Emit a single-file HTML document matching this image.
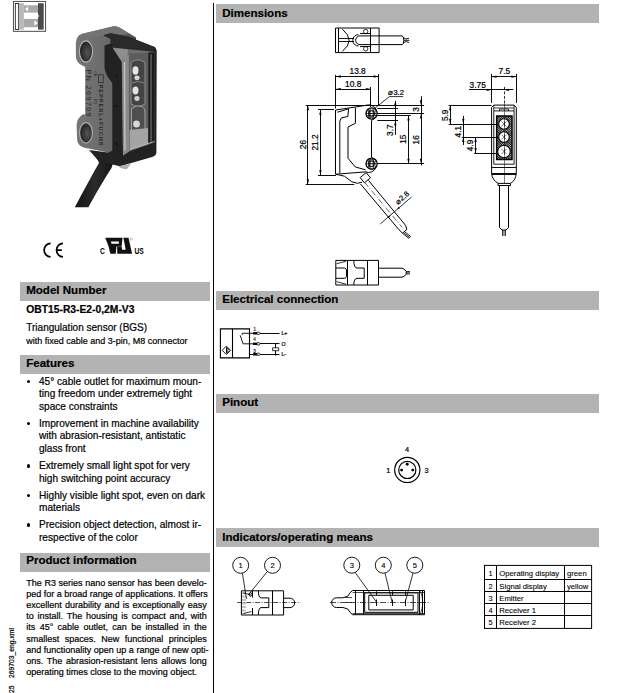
<!DOCTYPE html>
<html><head><meta charset="utf-8"><style>
html,body{margin:0;padding:0;background:#fff;}
body{width:619px;height:693px;position:relative;overflow:hidden;font-family:"Liberation Sans",sans-serif;color:#000;}
.t{position:absolute;white-space:nowrap;line-height:1;-webkit-text-stroke:0.2px #000;}
.bar{position:absolute;background:#b3b3b3;}
.bul{position:absolute;width:3.6px;height:3.6px;border-radius:50%;background:#000;}
svg{position:absolute;left:0;top:0;}
svg text{font-family:"Liberation Sans",sans-serif;}
</style></head><body>
<div class="bar" style="left:216px;top:4px;width:383px;height:19px"></div>
<div class="t" style="left:222.2px;top:7.67px;font-size:11.55px;font-weight:bold;">Dimensions</div>
<div class="bar" style="left:216px;top:291px;width:383px;height:19px"></div>
<div class="t" style="left:222.2px;top:293.97px;font-size:11.55px;font-weight:bold;">Electrical connection</div>
<div class="bar" style="left:216px;top:394px;width:383px;height:19px"></div>
<div class="t" style="left:222.2px;top:396.67px;font-size:11.55px;font-weight:bold;">Pinout</div>
<div class="bar" style="left:216px;top:528px;width:383px;height:19px"></div>
<div class="t" style="left:222.2px;top:531.67px;font-size:11.55px;font-weight:bold;">Indicators/operating means</div>
<div class="bar" style="left:20px;top:282px;width:190px;height:19px"></div>
<div class="t" style="left:26.2px;top:284.67px;font-size:11.55px;font-weight:bold;">Model Number</div>
<div class="bar" style="left:20px;top:355px;width:190px;height:19px"></div>
<div class="t" style="left:26.2px;top:358.37px;font-size:11.55px;font-weight:bold;">Features</div>
<div class="bar" style="left:20px;top:553px;width:190px;height:19px"></div>
<div class="t" style="left:26.2px;top:555.37px;font-size:11.55px;font-weight:bold;">Product information</div>
<div style="position:absolute;left:213px;top:3px;width:1px;height:690px;background:#000"></div>
<div class="t" style="left:26.3px;top:304.73px;font-size:10.3px;font-weight:bold;">OBT15-R3-E2-0,2M-V3</div>
<div class="t" style="left:26.3px;top:322.88px;font-size:10px;font-weight:normal;">Triangulation sensor (BGS)</div>
<div class="t" style="left:26.3px;top:336.83px;font-size:9px;font-weight:normal;">with fixed cable and 3-pin, M8 connector</div>
<div class="bul" style="left:26.8px;top:379.9px"></div>
<div class="t" style="left:39px;top:376.9px;font-size:10.1px;font-weight:normal;">45° cable outlet for maximum moun-</div>
<div class="t" style="left:39px;top:389.4px;font-size:10.1px;font-weight:normal;">ting freedom under extremely tight</div>
<div class="t" style="left:39px;top:401.9px;font-size:10.1px;font-weight:normal;">space constraints</div>
<div class="bul" style="left:26.8px;top:421.9px"></div>
<div class="t" style="left:39px;top:418.9px;font-size:10.1px;font-weight:normal;">Improvement in machine availability</div>
<div class="t" style="left:39px;top:431.4px;font-size:10.1px;font-weight:normal;">with abrasion-resistant, antistatic</div>
<div class="t" style="left:39px;top:443.9px;font-size:10.1px;font-weight:normal;">glass front</div>
<div class="bul" style="left:26.8px;top:464.4px"></div>
<div class="t" style="left:39px;top:461.4px;font-size:10.1px;font-weight:normal;">Extremely small light spot for very</div>
<div class="t" style="left:39px;top:473.9px;font-size:10.1px;font-weight:normal;">high switching point accuracy</div>
<div class="bul" style="left:26.8px;top:493.9px"></div>
<div class="t" style="left:39px;top:490.9px;font-size:10.1px;font-weight:normal;">Highly visible light spot, even on dark</div>
<div class="t" style="left:39px;top:503.4px;font-size:10.1px;font-weight:normal;">materials</div>
<div class="bul" style="left:26.8px;top:523.4px"></div>
<div class="t" style="left:39px;top:520.4px;font-size:10.1px;font-weight:normal;">Precision object detection, almost ir-</div>
<div class="t" style="left:39px;top:532.9px;font-size:10.1px;font-weight:normal;">respective of the color</div>
<div class="t" style="left:26.3px;top:578.53px;font-size:9px;font-weight:normal;width:180.5px;text-align:justify;text-align-last:justify;">The R3 series nano sensor has been develo-</div>
<div class="t" style="left:26.3px;top:589.73px;font-size:9px;font-weight:normal;width:180.5px;text-align:justify;text-align-last:justify;">ped for a broad range of applications. It offers</div>
<div class="t" style="left:26.3px;top:600.93px;font-size:9px;font-weight:normal;width:180.5px;text-align:justify;text-align-last:justify;">excellent durability and is exceptionally easy</div>
<div class="t" style="left:26.3px;top:612.13px;font-size:9px;font-weight:normal;width:180.5px;text-align:justify;text-align-last:justify;">to install. The housing is compact and, with</div>
<div class="t" style="left:26.3px;top:623.33px;font-size:9px;font-weight:normal;width:180.5px;text-align:justify;text-align-last:justify;">its 45° cable outlet, can be installed in the</div>
<div class="t" style="left:26.3px;top:634.53px;font-size:9px;font-weight:normal;width:180.5px;text-align:justify;text-align-last:justify;">smallest spaces. New functional principles</div>
<div class="t" style="left:26.3px;top:645.73px;font-size:9px;font-weight:normal;width:180.5px;text-align:justify;text-align-last:justify;">and functionality open up a range of new opti-</div>
<div class="t" style="left:26.3px;top:656.93px;font-size:9px;font-weight:normal;width:180.5px;text-align:justify;text-align-last:justify;">ons. The abrasion-resistant lens allows long</div>
<div class="t" style="left:26.3px;top:668.13px;font-size:9px;font-weight:normal;width:180.5px;text-align:justify;text-align-last:left;">operating times close to the moving object.</div>
<div class="t" style="left:9.3px;top:677.5px;font-size:6.75px;transform-origin:0 0;transform:rotate(-90deg)">269703_eng.xml</div>
<div class="t" style="left:9.3px;top:693px;font-size:6.75px;transform-origin:0 0;transform:rotate(-90deg)">25</div>
<svg width="619" height="693" viewBox="0 0 619 693">
<defs>
<linearGradient id="gface" x1="0" y1="0" x2="1" y2="0">
<stop offset="0" stop-color="#767676"/><stop offset="0.6" stop-color="#686868"/><stop offset="1" stop-color="#4a4a4a"/>
</linearGradient>
<linearGradient id="gcab" x1="0" y1="0" x2="1" y2="0">
<stop offset="0" stop-color="#141414"/><stop offset="0.5" stop-color="#2a2a2a"/><stop offset="1" stop-color="#151515"/>
</linearGradient>
<radialGradient id="ghole" cx="0.6" cy="0.55" r="0.6">
<stop offset="0" stop-color="#555"/><stop offset="1" stop-color="#1e1e1e"/>
</radialGradient>
</defs>
<!-- logo -->
<rect x="13.4" y="1.4" width="32.2" height="29.9" fill="#fff" stroke="#3a3a3a" stroke-width="0.9"/>
<rect x="15.3" y="3.4" width="3.4" height="26" fill="#fff" stroke="#111" stroke-width="0.8"/>
<rect x="19" y="3.2" width="4.8" height="26.4" fill="#b9b9b9"/>
<rect x="23.8" y="5.3" width="14.2" height="7.3" fill="#aaa"/>
<rect x="23.8" y="18.9" width="14.2" height="8.3" fill="#aaa"/>
<path d="M24.9,8.9 L28.2,6.4 V11.4 Z" fill="#fff"/>
<path d="M37.9,23 L34.4,20.5 V25.5 Z" fill="#fff"/>
<rect x="38" y="3.2" width="5.7" height="26.4" fill="#4b4b4b"/>
<path d="M38,14.6 L39.2,16 L38,17.4 Z" fill="#fff"/>
<!-- cable -->
<path d="M97,158 L99,163 C93,173 83,192 74.8,207.3 H88.4 C94,197 103,181 111.5,168 L114,160 Z" fill="url(#gcab)"/>
<!-- gray side face -->
<path d="M75.8,44 Q76,35.8 81.5,34 L112.6,26.4 Q116.8,25.6 119.8,27.8 L136,37.5 L136,153 L108,152.5 L96,150 L84.5,147.8 Q77.3,145.5 77.1,139.5 L76.6,125 Q77.2,117.5 83.5,114 L85.2,115 L85.2,67 Q76.2,63.5 75.9,57 Z" fill="url(#gface)"/>
<path d="M81.5,34 L112.6,26.4 Q116.8,25.6 119.8,27.8 L130,34 L104,35.5 L82,38 Z" fill="#737373"/>
<!-- black front/top -->
<path d="M103.4,35.2 L110.7,33.2 L129,37.1 L155.2,47.3 Q156.9,49.5 156.7,52.5 L156.4,153 Q156,156 153,156.8 L120,166.2 L99,161.5 L89,150 L108,152.5 L112.3,150.8 L112.3,83 Q106,76 104.5,68 L104.5,45.5 L110.7,43.4 L110.7,39 Z" fill="#222"/>
<path d="M103.4,35.2 L110.7,33.2 L129,37.1 L155.2,47.3 L152,50.5 L113,47.3 L110.7,43.4 L110.7,39 Z" fill="#2a2a2a"/>
<!-- translucent window -->
<path d="M112.6,47.6 L154.3,51.8 L154.4,142.4 L129.1,151.5 L123,155.5 L121.8,62 Z" fill="#6e6e6e"/>
<path d="M112.8,48 L128,49.6 L127,58 L121.8,61.5 Z" fill="#8e8e8e"/>
<path d="M121.8,58 L128.8,55 L129.1,151.5 L123,155.5 Z" fill="#8a8a8a"/>
<path d="M123.8,62 L125.2,62 L125.6,150 L124.3,151 Z" fill="#c4c4c4"/>
<path d="M129.1,53.5 L148.3,52.8 L148.3,143.5 L129.1,150 Z" fill="#5c5c5c"/>
<path d="M148.3,52.5 L154.3,52.2 L154.4,142.4 L148.3,144 Z" fill="#1c1c1c"/>
<path d="M150.5,54 L151.6,54 L151.6,141.5 L150.5,142 Z" fill="#777"/>
<path d="M131,62 Q138,57.5 145,62.5 L145,104 Q138,108.5 131,104 Z" fill="#444" stroke="#a0a0a0" stroke-width="0.8"/>
<path d="M131.5,108.5 Q136,104.5 142,106.5 Q145.5,108 145,113 L145,130 Q144,137 140,140 L131.5,141 Z" fill="#4e4e4e" stroke="#aaa" stroke-width="0.9"/>
<path d="M132,83 Q138,80 144.5,83" stroke="#888" stroke-width="0.9" fill="none"/>
<path d="M129.6,130 L148,128 L148,143.5 L129.6,149.5 Z" fill="#a4a4a4"/>
<path d="M129.6,149.6 L154.4,141.5" stroke="#c8c8c8" stroke-width="0.9"/>
<ellipse cx="135.5" cy="70.5" rx="3" ry="4.2" fill="#e6e6e6"/>
<ellipse cx="137" cy="77.8" rx="2.6" ry="2.4" fill="#d8d8d8"/>
<ellipse cx="135.5" cy="90.5" rx="3" ry="4" fill="#e2e2e2"/>
<ellipse cx="137" cy="98.5" rx="2.6" ry="2.4" fill="#d2d2d2"/>
<ellipse cx="136.5" cy="124" rx="3.4" ry="3.6" fill="#d8d8d8"/>
<path d="M118,166.3 Q122,170 127,169 L131,163.8 L120,166 Z" fill="#b0b0b0"/>
<!-- holes -->
<ellipse cx="86" cy="51.5" rx="6.6" ry="10.6" fill="url(#ghole)" stroke="#b4b4b4" stroke-width="1.1"/>
<ellipse cx="86" cy="132.8" rx="6.4" ry="10.2" fill="url(#ghole)" stroke="#b0b0b0" stroke-width="1.1"/>
<circle cx="116.6" cy="75.5" r="0.9" fill="#0a0a0a"/>
<circle cx="116.6" cy="105.8" r="0.9" fill="#0a0a0a"/>
<circle cx="116.6" cy="144" r="0.9" fill="#0a0a0a"/>
<!-- side text -->
<g fill="#262626" font-family="Liberation Sans">
<rect x="98.6" y="74.8" width="4.6" height="8" fill="none" stroke="#262626" stroke-width="0.7"/>
<text transform="translate(98.6,84.5) rotate(90)" font-size="5.6" font-weight="bold" textLength="61">PEPPERL+FUCHS</text>
<text transform="translate(93.6,71) rotate(90)" font-size="3.8">OB</text>
<text transform="translate(93.6,99) rotate(90)" font-size="3.8">R3</text>
<text transform="translate(86,69.5) rotate(90)" font-size="7.2" textLength="47">PN 269709</text>
</g>
<!-- CE -->
<path d="M50.6,243.3 A6.5,6.8 0 0 0 50.6,256.9" fill="none" stroke="#000" stroke-width="1.7"/>
<path d="M63,243.3 A6.5,6.8 0 0 0 63,256.9 M56.8,250.1 H61.8" fill="none" stroke="#000" stroke-width="1.7"/>
<!-- cULus -->
<text x="0" y="0" font-size="8.6" font-weight="bold" font-family="Liberation Sans" transform="translate(99.9 253.7) scale(0.78 1)">C</text>
<path d="M105.2,237.8 H122.6 L121.6,246.6 H116.4 L115.8,253.7 H110.3 L108.6,246.6 Z M110.9,241.4 H119 L118.7,243.8 H111.5 Z" fill="#111" fill-rule="evenodd"/>
<path d="M123.4,237.8 H128.5 L132.1,253.7 H117.3 L117.1,246.6 H121.6 L122.2,249.8 H125.7 Z" fill="#111"/>
<text x="0" y="0" font-size="8.6" font-weight="bold" font-family="Liberation Sans" transform="translate(134.4 253.7) scale(0.78 1)">US</text>
<circle cx="131.2" cy="239" r="1.2" fill="none" stroke="#999" stroke-width="0.6"/>

<path d="M335.5,28 H379.1 V52.6 H335.5 Z" stroke="#000" stroke-width="1.0" fill="none" />
<line x1="338.5" y1="28" x2="338.5" y2="52.6" stroke="#000" stroke-width="1.0" />
<line x1="370.5" y1="28" x2="370.5" y2="52.6" stroke="#000" stroke-width="1.0" />
<path d="M342.4,29.2 Q355.8,40.3 342.4,51.4" stroke="#000" stroke-width="1.0" fill="none" />
<line x1="338.8" y1="38.5" x2="354" y2="38.5" stroke="#000" stroke-width="0.95" />
<line x1="338.8" y1="41.5" x2="354" y2="41.5" stroke="#000" stroke-width="0.95" />
<path d="M402,35.9 H360 A4.35,4.35 0 0 0 360,44.6 H402" stroke="#000" stroke-width="1.0" fill="none" />
<path d="M358.5,34.6 A5.6,5.6 0 0 0 358.5,46" stroke="#000" stroke-width="1.0" fill="none" />
<circle cx="365.7" cy="31.5" r="2.2" stroke="#000" stroke-width="0.8" fill="none"/>
<circle cx="365.7" cy="48.8" r="2.2" stroke="#000" stroke-width="0.8" fill="none"/>
<line x1="360" y1="33.5" x2="370.8" y2="33.5" stroke="#000" stroke-width="0.95" />
<line x1="360" y1="46.5" x2="370.8" y2="46.5" stroke="#000" stroke-width="0.95" />
<path d="M402,35.9 A1.8,4.35 0 0 1 402,44.6" stroke="#000" stroke-width="1.0" fill="none" />
<path d="M403,37.5 L406,39 L409,38.2 M403,43 L406,41.5 L409,42.5 M404,40.3 L409.5,40.3" stroke="#000" stroke-width="0.9" fill="none" />
<line x1="335.5" y1="74.9" x2="335.5" y2="108.5" stroke="#000" stroke-width="0.95" />
<line x1="378.5" y1="74.2" x2="378.5" y2="105.3" stroke="#000" stroke-width="0.95" />
<line x1="335.9" y1="76.5" x2="378.6" y2="76.5" stroke="#000" stroke-width="0.95" />
<path d="M335.9,76.5 L340.9,75.35 L340.9,77.65 Z" fill="#000"/>
<path d="M378.6,76.5 L373.6,77.65 L373.6,75.35 Z" fill="#000"/>
<text x="357.6" y="74" font-size="8.3" text-anchor="middle" font-weight="normal" fill="#000" stroke="#000" stroke-width="0.22">13.8</text>
<line x1="370.5" y1="87" x2="370.5" y2="107" stroke="#000" stroke-width="0.95" />
<line x1="335.9" y1="89.5" x2="370.8" y2="89.5" stroke="#000" stroke-width="0.95" />
<path d="M335.9,89.1 L340.9,87.95 L340.9,90.25 Z" fill="#000"/>
<path d="M370.8,89.1 L365.8,90.25 L365.8,87.95 Z" fill="#000"/>
<text x="353.2" y="87.1" font-size="8.3" text-anchor="middle" font-weight="normal" fill="#000" stroke="#000" stroke-width="0.22">10.8</text>
<line x1="305.7" y1="105.5" x2="424.1" y2="105.5" stroke="#000" stroke-width="0.95" />
<line x1="307.5" y1="105.3" x2="307.5" y2="184.3" stroke="#000" stroke-width="0.95" />
<path d="M307.9,105.3 L309.05,110.3 L306.75,110.3 Z" fill="#000"/>
<path d="M307.9,184.3 L306.75,179.3 L309.05,179.3 Z" fill="#000"/>
<line x1="305.7" y1="184.5" x2="354.3" y2="184.5" stroke="#000" stroke-width="0.95" />
<text x="305.6" y="144.6" font-size="8.3" text-anchor="middle" font-weight="normal" fill="#000" stroke="#000" stroke-width="0.22" transform="rotate(-90 305.6 144.6)">26</text>
<line x1="318" y1="109.5" x2="334" y2="109.5" stroke="#000" stroke-width="0.95" />
<line x1="318" y1="175.5" x2="336" y2="175.5" stroke="#000" stroke-width="0.95" />
<line x1="320.5" y1="109.7" x2="320.5" y2="175.3" stroke="#000" stroke-width="0.95" />
<path d="M320.4,109.7 L321.55,114.7 L319.25,114.7 Z" fill="#000"/>
<path d="M320.4,175.3 L319.25,170.3 L321.55,170.3 Z" fill="#000"/>
<text x="318" y="142.5" font-size="8.3" text-anchor="middle" font-weight="normal" fill="#000" stroke="#000" stroke-width="0.22" transform="rotate(-90 318 142.5)">21.2</text>
<line x1="377.3" y1="113.5" x2="424.1" y2="113.5" stroke="#000" stroke-width="0.95" />
<line x1="377.3" y1="163.5" x2="424.1" y2="163.5" stroke="#000" stroke-width="0.95" />
<line x1="377.3" y1="115.5" x2="410.8" y2="115.5" stroke="#000" stroke-width="0.95" />
<line x1="377.3" y1="108.5" x2="398.1" y2="108.5" stroke="#000" stroke-width="0.95" />
<line x1="377.3" y1="120.5" x2="398.1" y2="120.5" stroke="#000" stroke-width="0.95" />
<line x1="421.5" y1="96.2" x2="421.5" y2="165.5" stroke="#000" stroke-width="0.95" />
<path d="M421,105.3 L419.85,100.3 L422.15,100.3 Z" fill="#000"/>
<path d="M421,113.5 L422.15,118.5 L419.85,118.5 Z" fill="#000"/>
<path d="M421,163.7 L419.85,158.7 L422.15,158.7 Z" fill="#000"/>
<text x="418.8" y="109.5" font-size="8.3" text-anchor="middle" font-weight="normal" fill="#000" stroke="#000" stroke-width="0.22" transform="rotate(-90 418.8 109.5)">3</text>
<text x="418.8" y="139.8" font-size="8.3" text-anchor="middle" font-weight="normal" fill="#000" stroke="#000" stroke-width="0.22" transform="rotate(-90 418.8 139.8)">16</text>
<line x1="408.5" y1="115.6" x2="408.5" y2="163.7" stroke="#000" stroke-width="0.95" />
<path d="M408.5,115.6 L409.65,120.6 L407.35,120.6 Z" fill="#000"/>
<path d="M408.5,163.7 L407.35,158.7 L409.65,158.7 Z" fill="#000"/>
<text x="406.3" y="139.2" font-size="8.3" text-anchor="middle" font-weight="normal" fill="#000" stroke="#000" stroke-width="0.22" transform="rotate(-90 406.3 139.2)">15</text>
<line x1="395.5" y1="100.8" x2="395.5" y2="134.9" stroke="#000" stroke-width="0.95" />
<path d="M395.3,108.6 L394.15,103.6 L396.45,103.6 Z" fill="#000"/>
<path d="M395.3,120.4 L396.45,125.4 L394.15,125.4 Z" fill="#000"/>
<text x="393.2" y="130.2" font-size="8.3" text-anchor="middle" font-weight="normal" fill="#000" stroke="#000" stroke-width="0.22" transform="rotate(-90 393.2 130.2)">3.7</text>
<path d="M374.8,108.3 L389.4,96.6 H403.1" stroke="#000" stroke-width="0.8" fill="none" />
<text x="388.4" y="95" font-size="7.5" text-anchor="start" font-weight="normal" fill="#000" stroke="#000" stroke-width="0.22">⌀3.2</text>
<path d="M335.7,110 L365.6,105.4" stroke="#000" stroke-width="1.0" fill="none" />
<line x1="335.5" y1="110" x2="335.5" y2="174.2" stroke="#000" stroke-width="1.0" />
<path d="M337.5,112.2 L348.6,108.8 L347.8,116.5 L341.5,117.8 L339.8,121 V173" stroke="#000" stroke-width="1.0" fill="none" />
<path d="M355.4,107.6 V123.3 L348,127 V158.3 L355.4,167 L365.6,169.8" stroke="#000" stroke-width="1.0" fill="none" />
<line x1="371.5" y1="120.4" x2="371.5" y2="157.3" stroke="#000" stroke-width="1.0" />
<path d="M365.6,105.4 A6.6,6.6 0 1 1 371.6,120.4" stroke="#000" stroke-width="1.0" fill="none" />
<path d="M371.6,157.3 A6.6,6.6 0 1 1 365.6,171.9" stroke="#000" stroke-width="1.0" fill="none" />
<circle cx="371.6" cy="113.5" r="5.6" stroke="#000" stroke-width="1.3" fill="url(#hatch2)"/>
<circle cx="371.6" cy="113.5" r="3" stroke="#000" stroke-width="0.9" fill="none"/>
<line x1="369.5" y1="109.5" x2="369.5" y2="117.5" stroke="#000" stroke-width="0.7" />
<line x1="373.5" y1="109.5" x2="373.5" y2="117.5" stroke="#000" stroke-width="0.7" />
<line x1="367.5" y1="113.5" x2="375.7" y2="113.5" stroke="#000" stroke-width="0.7" />
<circle cx="371.6" cy="163.7" r="5.6" stroke="#000" stroke-width="1.3" fill="url(#hatch2)"/>
<circle cx="371.6" cy="163.7" r="3" stroke="#000" stroke-width="0.9" fill="none"/>
<line x1="369.5" y1="159.7" x2="369.5" y2="167.7" stroke="#000" stroke-width="0.7" />
<line x1="373.5" y1="159.7" x2="373.5" y2="167.7" stroke="#000" stroke-width="0.7" />
<line x1="367.5" y1="163.5" x2="375.7" y2="163.5" stroke="#000" stroke-width="0.7" />
<path d="M335.7,174.2 L365.6,171.9" stroke="#000" stroke-width="1.0" fill="none" />
<path d="M335.7,174.2 L344.5,176.2 L351.8,181.8 L357.6,183.3 L362,182.2" stroke="#000" stroke-width="1.0" fill="none" />
<path d="M360.2,177.6 L366.2,172.6 L370.5,177.8 L364.4,182.8 Z" stroke="#000" stroke-width="1.0" fill="none" />
<line x1="360.5" y1="184" x2="399" y2="229.8" stroke="#000" stroke-width="1.0" />
<line x1="368.5" y1="180.4" x2="405.6" y2="225.4" stroke="#000" stroke-width="1.0" />
<line x1="364.5" y1="182.2" x2="402.3" y2="227.6" stroke="#000" stroke-width="0.6" stroke-dasharray="6,2,1,2"/>
<path d="M399,229.8 L402.5,233.2 L406.8,229.5 L405.6,225.4" stroke="#000" stroke-width="1.0" fill="none" />
<path d="M402.5,233.2 L409,238.5 M404.5,231.5 L411,236.8 M403.5,232.5 L410,237.8" stroke="#000" stroke-width="0.9" fill="none" />
<line x1="380.2" y1="224" x2="411.4" y2="197.1" stroke="#000" stroke-width="0.8" />
<path d="M397.2,209.3 L398.7,206.73 L399.99,208.27 Z" fill="#000"/>
<path d="M390.5,215.2 L389,217.77 L387.71,216.23 Z" fill="#000"/>
<text x="403.8" y="199.6" font-size="7.5" text-anchor="middle" font-weight="normal" fill="#000" stroke="#000" stroke-width="0.22" transform="rotate(-40 403.8 199.6)">⌀2.8</text>
<line x1="491.5" y1="73.8" x2="491.5" y2="102.9" stroke="#000" stroke-width="0.95" />
<line x1="516.5" y1="73.8" x2="516.5" y2="102.9" stroke="#000" stroke-width="0.95" />
<line x1="491.6" y1="76.5" x2="516.3" y2="76.5" stroke="#000" stroke-width="0.95" />
<path d="M491.6,76.7 L496.6,75.55 L496.6,77.85 Z" fill="#000"/>
<path d="M516.3,76.7 L511.3,77.85 L511.3,75.55 Z" fill="#000"/>
<text x="504.3" y="73.8" font-size="8.3" text-anchor="middle" font-weight="normal" fill="#000" stroke="#000" stroke-width="0.22">7.5</text>
<line x1="469" y1="89.5" x2="513.4" y2="89.5" stroke="#000" stroke-width="0.95" />
<path d="M491.6,89.8 L486.6,90.95 L486.6,88.65 Z" fill="#000"/>
<path d="M504,89.8 L509,88.65 L509,90.95 Z" fill="#000"/>
<text x="469.6" y="87.6" font-size="8.3" text-anchor="start" font-weight="normal" fill="#000" stroke="#000" stroke-width="0.22">3.75</text>
<line x1="504.5" y1="86.9" x2="504.5" y2="103.6" stroke="#000" stroke-width="0.8" stroke-dasharray="3,1.5"/>
<path d="M491.6,107.5 L493.8,105.1 H514.1 L516.3,107.5 V173 Q516,180 510.5,183.4 H498.2 Q492,180 491.6,173 Z" stroke="#000" stroke-width="1.0" fill="none" />
<path d="M493.8,105.1 V110.9 M514.1,105.1 V110.9" stroke="#000" stroke-width="0.8" fill="none" />
<path d="M493.8,108 H514.1" stroke="#000" stroke-width="0.8" fill="none" />
<path d="M499.5,110.9 V109 H508.5 V110.9" stroke="#000" stroke-width="0.8" fill="none" />
<path d="M493.8,110.9 H514.1 V164.2 H493.8 Z" stroke="#000" stroke-width="0.9" fill="none" />
<defs><pattern id="hatch2" width="2.2" height="2.2" patternUnits="userSpaceOnUse" patternTransform="rotate(0)"><rect width="2.2" height="2.2" fill="#fff"/><line x1="0" y1="1.1" x2="2.2" y2="1.1" stroke="#000" stroke-width="0.45"/><line x1="1.1" y1="0" x2="1.1" y2="2.2" stroke="#000" stroke-width="0.45"/></pattern></defs>
<defs><pattern id="hatch" width="1.6" height="1.6" patternUnits="userSpaceOnUse" patternTransform="rotate(45)"><rect width="1.6" height="1.6" fill="#fff"/><line x1="0" y1="0.4" x2="1.6" y2="0.4" stroke="#000" stroke-width="0.7"/><line x1="0.4" y1="0" x2="0.4" y2="1.6" stroke="#000" stroke-width="0.5"/></pattern></defs>
<path d="M496.7,116 H512 V159.6 H496.7 Z" stroke="#000" stroke-width="1.5" fill="url(#hatch)" />
<circle cx="504" cy="124" r="5.3" stroke="#000" stroke-width="1.1" fill="#fff"/>
<line x1="501.5" y1="121.5" x2="506.5" y2="126.5" stroke="#000" stroke-width="0.5" />
<line x1="501.5" y1="126.5" x2="506.5" y2="121.5" stroke="#000" stroke-width="0.5" />
<line x1="504.5" y1="121" x2="504.5" y2="127" stroke="#000" stroke-width="0.5" />
<circle cx="504" cy="137.1" r="5.3" stroke="#000" stroke-width="1.1" fill="#fff"/>
<line x1="501.5" y1="134.6" x2="506.5" y2="139.6" stroke="#000" stroke-width="0.5" />
<line x1="501.5" y1="139.6" x2="506.5" y2="134.6" stroke="#000" stroke-width="0.5" />
<line x1="504.5" y1="134.1" x2="504.5" y2="140.1" stroke="#000" stroke-width="0.5" />
<circle cx="504" cy="151.5" r="6.3" stroke="#000" stroke-width="1.1" fill="#fff"/>
<line x1="501.5" y1="149" x2="506.5" y2="154" stroke="#000" stroke-width="0.5" />
<line x1="501.5" y1="154" x2="506.5" y2="149" stroke="#000" stroke-width="0.5" />
<line x1="504.5" y1="148.5" x2="504.5" y2="154.5" stroke="#000" stroke-width="0.5" />
<line x1="504.5" y1="103.6" x2="504.5" y2="183" stroke="#000" stroke-width="0.5" />
<line x1="491.6" y1="167.5" x2="516.3" y2="167.5" stroke="#000" stroke-width="0.95" />
<line x1="491.6" y1="173.5" x2="516.3" y2="173.5" stroke="#000" stroke-width="0.95" />
<line x1="492" y1="174.5" x2="516" y2="174.5" stroke="#000" stroke-width="0.95" />
<path d="M498,183.4 V185.5 H510.5 V183.4" stroke="#000" stroke-width="1.0" fill="none" />
<line x1="499.5" y1="185.5" x2="499.5" y2="227.5" stroke="#000" stroke-width="1.0" />
<line x1="508.5" y1="185.5" x2="508.5" y2="227.5" stroke="#000" stroke-width="1.0" />
<path d="M499.5,227.5 L502,230 H506 L508.6,227.5" stroke="#000" stroke-width="1.0" fill="none" />
<path d="M502.5,230 V236 M504,230 V236 M505.5,230 V236" stroke="#000" stroke-width="0.8" fill="none" />
<line x1="448.7" y1="105.5" x2="491.6" y2="105.5" stroke="#000" stroke-width="0.95" />
<line x1="448.7" y1="124.5" x2="498" y2="124.5" stroke="#000" stroke-width="0.95" />
<line x1="461.8" y1="137.5" x2="498" y2="137.5" stroke="#000" stroke-width="0.95" />
<line x1="474.2" y1="153.5" x2="498" y2="153.5" stroke="#000" stroke-width="0.95" />
<line x1="450.5" y1="105.3" x2="450.5" y2="124" stroke="#000" stroke-width="0.95" />
<path d="M450.2,105.3 L451.35,110.3 L449.05,110.3 Z" fill="#000"/>
<path d="M450.2,124 L449.05,119 L451.35,119 Z" fill="#000"/>
<text x="447.8" y="115.3" font-size="8.3" text-anchor="middle" font-weight="normal" fill="#000" stroke="#000" stroke-width="0.22" transform="rotate(-90 447.8 115.3)">5.9</text>
<line x1="463.5" y1="116" x2="463.5" y2="145" stroke="#000" stroke-width="0.95" />
<path d="M463.3,124 L462.15,119 L464.45,119 Z" fill="#000"/>
<path d="M463.3,137.1 L464.45,142.1 L462.15,142.1 Z" fill="#000"/>
<text x="461" y="131.7" font-size="8.3" text-anchor="middle" font-weight="normal" fill="#000" stroke="#000" stroke-width="0.22" transform="rotate(-90 461 131.7)">4.1</text>
<line x1="475.5" y1="137.1" x2="475.5" y2="153.1" stroke="#000" stroke-width="0.95" />
<path d="M475.6,137.1 L476.75,142.1 L474.45,142.1 Z" fill="#000"/>
<path d="M475.6,153.1 L474.45,148.1 L476.75,148.1 Z" fill="#000"/>
<text x="473.3" y="145.5" font-size="8.3" text-anchor="middle" font-weight="normal" fill="#000" stroke="#000" stroke-width="0.22" transform="rotate(-90 473.3 145.5)">4.9</text>
<path d="M335.8,260.4 H378.5 V285 H335.8 Z" stroke="#000" stroke-width="1.0" fill="none" />
<line x1="347.5" y1="260.4" x2="347.5" y2="285" stroke="#000" stroke-width="1.0" />
<line x1="367.5" y1="260.4" x2="367.5" y2="285" stroke="#000" stroke-width="1.0" />
<path d="M336.6,263.8 L346,261.2" stroke="#000" stroke-width="0.8" fill="none" />
<path d="M336.6,281.6 L346,284.2" stroke="#000" stroke-width="0.8" fill="none" />
<path d="M335.8,268 H344.5 Q346.5,268.5 346.5,270 V276.5 Q346.5,278 344.5,278.3 H335.8" stroke="#000" stroke-width="1.0" fill="none" />
<path d="M353.8,260.4 Q353.8,267.8 357,268 H364.2 V278.3 H357 Q353.8,278.6 353.8,285" stroke="#000" stroke-width="1.0" fill="none" />
<path d="M378.5,268.2 H402 Q404,268.6 406.2,271.2 V274.4 Q404,276.8 402,277.2 H378.5" stroke="#000" stroke-width="1.0" fill="none" />
<path d="M406.2,271.5 H410 M406.2,272.8 H410 M406.2,274 H410" stroke="#000" stroke-width="0.8" fill="none" />
<path d="M220.4,328.9 H249.5 V357.9 H220.4 Z" stroke="#000" stroke-width="1.1" fill="none" />
<line x1="232.5" y1="328.9" x2="232.5" y2="357.9" stroke="#000" stroke-width="1.1" />
<path d="M222.2,350.3 L226.4,346.1 L230.6,350.3 L226.4,354.5 Z" stroke="#000" stroke-width="0.9" fill="none" />
<line x1="226.5" y1="347.3" x2="226.5" y2="353.3" stroke="#000" stroke-width="0.95" />
<path d="M227.2,347.8 L229.3,350.3 L227.2,352.8 Z" stroke="#000" stroke-width="0.7" fill="none" />
<path d="M242.2,334.8 V333.3 H253.5" stroke="#000" stroke-width="0.9" fill="none" />
<path d="M240.2,335.3 L243,343.8 H253.5" stroke="#000" stroke-width="0.9" fill="none" />
<rect x="253.1" y="332.1" width="4.5" height="2.4" fill="#000"/>
<path d="M257.6,331.9 Q260,331.9 260,333.3 Q260,334.7 257.6,334.7" stroke="#000" stroke-width="0.8" fill="none" />
<line x1="260" y1="333.5" x2="279.5" y2="333.5" stroke="#000" stroke-width="0.95" />
<rect x="253.1" y="342.6" width="4.5" height="2.4" fill="#000"/>
<path d="M257.6,342.4 Q260,342.4 260,343.8 Q260,345.2 257.6,345.2" stroke="#000" stroke-width="0.8" fill="none" />
<line x1="260" y1="343.5" x2="279.5" y2="343.5" stroke="#000" stroke-width="0.95" />
<rect x="253.1" y="353.1" width="4.5" height="2.4" fill="#000"/>
<path d="M257.6,352.9 Q260,352.9 260,354.3 Q260,355.7 257.6,355.7" stroke="#000" stroke-width="0.8" fill="none" />
<line x1="260" y1="354.5" x2="279.5" y2="354.5" stroke="#000" stroke-width="0.95" />
<line x1="249.5" y1="354.5" x2="253.1" y2="354.5" stroke="#000" stroke-width="0.95" />
<line x1="275.5" y1="343.8" x2="275.5" y2="354.3" stroke="#000" stroke-width="0.95" />
<circle cx="275.7" cy="343.8" r="0.8" stroke="#000" stroke-width="0" fill="#000"/>
<circle cx="275.7" cy="354.7" r="0.9" stroke="#000" stroke-width="0" fill="#000"/>
<path d="M272.6,347.8 H278.7 V350.7 H272.6 Z" stroke="#000" stroke-width="0.8" fill="#fff" />
<text x="253.4" y="330.5" font-size="4.6" text-anchor="start" font-weight="normal" fill="#702010" stroke="#702010" stroke-width="0.22">1</text>
<text x="253.2" y="341.4" font-size="4.6" text-anchor="start" font-weight="normal" fill="#704010" stroke="#704010" stroke-width="0.22">4</text>
<text x="253.2" y="352.7" font-size="4.6" text-anchor="start" font-weight="normal" fill="#202040" stroke="#202040" stroke-width="0.22">3</text>
<text x="281.4" y="335.2" font-size="5.2" text-anchor="start" font-weight="normal" fill="#000" stroke="#000" stroke-width="0.22">L+</text>
<text x="281.4" y="346" font-size="5.2" text-anchor="start" font-weight="normal" fill="#000" stroke="#000" stroke-width="0.22">O</text>
<text x="281.4" y="356" font-size="5.2" text-anchor="start" font-weight="normal" fill="#000" stroke="#000" stroke-width="0.22">L-</text>
<circle cx="407.3" cy="469.9" r="12.6" stroke="#000" stroke-width="1.2" fill="none"/>
<circle cx="407.3" cy="469.9" r="8.6" stroke="#000" stroke-width="1.2" fill="none"/>
<circle cx="407.2" cy="464.3" r="1.45" stroke="#000" stroke-width="0" fill="#000"/>
<circle cx="401.6" cy="470.1" r="1.45" stroke="#000" stroke-width="0" fill="#000"/>
<circle cx="412.8" cy="470.1" r="1.45" stroke="#000" stroke-width="0" fill="#000"/>
<text x="407" y="451.9" font-size="7.4" text-anchor="middle" font-weight="normal" fill="#000" stroke="#000" stroke-width="0.22">4</text>
<text x="388.4" y="473" font-size="7.4" text-anchor="middle" font-weight="normal" fill="#000" stroke="#000" stroke-width="0.22">1</text>
<text x="426.6" y="473" font-size="7.4" text-anchor="middle" font-weight="normal" fill="#000" stroke="#000" stroke-width="0.22">3</text>
<circle cx="240.7" cy="565.3" r="8" stroke="#000" stroke-width="0.9" fill="none"/>
<text x="240.7" y="568" font-size="7.6" text-anchor="middle" font-weight="normal" fill="#000" stroke="#000" stroke-width="0.12">1</text>
<circle cx="272.5" cy="565.3" r="8" stroke="#000" stroke-width="0.9" fill="none"/>
<text x="272.5" y="568" font-size="7.6" text-anchor="middle" font-weight="normal" fill="#000" stroke="#000" stroke-width="0.12">2</text>
<circle cx="351.8" cy="565.2" r="8" stroke="#000" stroke-width="0.9" fill="none"/>
<text x="351.8" y="567.9" font-size="7.6" text-anchor="middle" font-weight="normal" fill="#000" stroke="#000" stroke-width="0.12">3</text>
<circle cx="383.3" cy="565.2" r="8" stroke="#000" stroke-width="0.9" fill="none"/>
<text x="383.3" y="567.9" font-size="7.6" text-anchor="middle" font-weight="normal" fill="#000" stroke="#000" stroke-width="0.12">4</text>
<circle cx="414.8" cy="565.2" r="8" stroke="#000" stroke-width="0.9" fill="none"/>
<text x="414.8" y="567.9" font-size="7.6" text-anchor="middle" font-weight="normal" fill="#000" stroke="#000" stroke-width="0.12">5</text>
<line x1="242.4" y1="573.3" x2="246.5" y2="599" stroke="#000" stroke-width="0.8" />
<line x1="267.2" y1="571.7" x2="248.3" y2="595" stroke="#000" stroke-width="0.8" />
<line x1="355" y1="572.3" x2="376.8" y2="602.6" stroke="#000" stroke-width="0.8" />
<line x1="385" y1="573.1" x2="392.2" y2="602.6" stroke="#000" stroke-width="0.8" />
<line x1="413" y1="573.1" x2="405.1" y2="602.6" stroke="#000" stroke-width="0.8" />
<path d="M241.4,590.8 H283.6 V615 H241.4 Z" stroke="#000" stroke-width="1.0" fill="none" />
<line x1="252.5" y1="590.8" x2="252.5" y2="597.5" stroke="#000" stroke-width="1.0" />
<line x1="252.5" y1="608" x2="252.5" y2="615" stroke="#000" stroke-width="1.0" />
<line x1="272.5" y1="590.8" x2="272.5" y2="615" stroke="#000" stroke-width="1.0" />
<path d="M258.4,591 Q258.4,597.6 261,597.9 H268.8 V607.6 H261 Q258.4,608 258.4,614.8" stroke="#000" stroke-width="1.0" fill="none" />
<path d="M283.6,598.2 H290 A4.7,4.7 0 0 1 290,607.6 H283.6" stroke="#000" stroke-width="1.0" fill="none" />
<line x1="237.1" y1="602.5" x2="300.4" y2="602.5" stroke="#000" stroke-width="0.7" stroke-dasharray="5,1.5,1,1.5"/>
<path d="M243,592 V614 M245,592 V614" stroke="#000" stroke-width="0.5" fill="none" stroke-dasharray="2,1.5"/>
<path d="M243.5,593 L251.5,595 M243.5,613.5 L251.5,611.5" stroke="#000" stroke-width="0.8" fill="none" />
<path d="M248.5,594 L251,592.5 L252.5,595 L250,596.5 Z" stroke="#000" stroke-width="0.8" fill="none" />
<path d="M342.9,597.8 H336.5 A4.85,4.85 0 0 0 336.5,607.5 H342.9" stroke="#000" stroke-width="1.0" fill="none" />
<path d="M342.9,597.8 L347.8,596.2 Q350,592 352.6,590.5 H424.5 V614.7 H352.6 Q350,613 347.8,609 L342.9,607.5" stroke="#000" stroke-width="1.0" fill="none" />
<line x1="352.6" y1="592.5" x2="424.5" y2="592.5" stroke="#000" stroke-width="0.7" />
<line x1="352.6" y1="613.5" x2="424.5" y2="613.5" stroke="#000" stroke-width="0.7" />
<line x1="355.5" y1="590.5" x2="355.5" y2="614.7" stroke="#000" stroke-width="0.95" />
<line x1="363.5" y1="590.5" x2="363.5" y2="614.7" stroke="#000" stroke-width="0.95" />
<path d="M364.7,592.9 H418 V612.3 H364.7 Z" stroke="#000" stroke-width="1.0" fill="none" />
<path d="M368.8,595.3 H413.2 V609.9 H368.8 Z" stroke="#000" stroke-width="1.0" fill="none" />
<line x1="419.5" y1="590.5" x2="419.5" y2="614.7" stroke="#000" stroke-width="0.95" />
<line x1="422.5" y1="590.5" x2="422.5" y2="614.7" stroke="#000" stroke-width="0.95" />
<path d="M420.5,591.5 Q425,602.6 420.5,613.7" stroke="#000" stroke-width="0.7" fill="none" />
<line x1="376.5" y1="591.3" x2="376.5" y2="595.3" stroke="#000" stroke-width="0.95" />
<line x1="376.5" y1="599.5" x2="376.5" y2="606" stroke="#000" stroke-width="0.95" />
<line x1="392.5" y1="591.3" x2="392.5" y2="595.3" stroke="#000" stroke-width="0.95" />
<line x1="392.5" y1="599.5" x2="392.5" y2="606" stroke="#000" stroke-width="0.95" />
<line x1="405.5" y1="591.3" x2="405.5" y2="595.3" stroke="#000" stroke-width="0.95" />
<line x1="405.5" y1="599.5" x2="405.5" y2="606" stroke="#000" stroke-width="0.95" />
<line x1="330" y1="602.5" x2="430" y2="602.5" stroke="#000" stroke-width="0.7" stroke-dasharray="6,1.5,1,1.5"/>
<line x1="345" y1="597.5" x2="352" y2="597.5" stroke="#000" stroke-width="0.7" />
<line x1="345" y1="602.5" x2="352" y2="602.5" stroke="#000" stroke-width="0.7" />
<rect x="484.5" y="565.4" width="107.1" height="63" fill="none" stroke="#000" stroke-width="1.0"/>
<line x1="496.5" y1="565.4" x2="496.5" y2="628.4" stroke="#000" stroke-width="1.0" />
<line x1="564.5" y1="565.4" x2="564.5" y2="628.4" stroke="#000" stroke-width="1.0" />
<line x1="484.5" y1="579.5" x2="591.6" y2="579.5" stroke="#000" stroke-width="1.0" />
<line x1="484.5" y1="591.5" x2="591.6" y2="591.5" stroke="#000" stroke-width="1.0" />
<line x1="484.5" y1="603.5" x2="591.6" y2="603.5" stroke="#000" stroke-width="1.0" />
<line x1="484.5" y1="615.5" x2="591.6" y2="615.5" stroke="#000" stroke-width="1.0" />
<text x="490.5" y="575.7" font-size="7.4" text-anchor="middle" font-weight="normal" fill="#000" stroke="#000" stroke-width="0.1">1</text>
<text x="499.3" y="575.7" font-size="7.7" text-anchor="start" font-weight="normal" fill="#000" stroke="#000" stroke-width="0.1">Operating display</text>
<text x="567" y="575.7" font-size="7.7" text-anchor="start" font-weight="normal" fill="#000" stroke="#000" stroke-width="0.1">green</text>
<text x="490.5" y="588.7" font-size="7.4" text-anchor="middle" font-weight="normal" fill="#000" stroke="#000" stroke-width="0.1">2</text>
<text x="499.3" y="588.7" font-size="7.7" text-anchor="start" font-weight="normal" fill="#000" stroke="#000" stroke-width="0.1">Signal display</text>
<text x="567" y="588.7" font-size="7.7" text-anchor="start" font-weight="normal" fill="#000" stroke="#000" stroke-width="0.1">yellow</text>
<text x="490.5" y="600.6" font-size="7.4" text-anchor="middle" font-weight="normal" fill="#000" stroke="#000" stroke-width="0.1">3</text>
<text x="499.3" y="600.6" font-size="7.7" text-anchor="start" font-weight="normal" fill="#000" stroke="#000" stroke-width="0.1">Emitter</text>
<text x="490.5" y="612.7" font-size="7.4" text-anchor="middle" font-weight="normal" fill="#000" stroke="#000" stroke-width="0.1">4</text>
<text x="499.3" y="612.7" font-size="7.7" text-anchor="start" font-weight="normal" fill="#000" stroke="#000" stroke-width="0.1">Receiver 1</text>
<text x="490.5" y="625.2" font-size="7.4" text-anchor="middle" font-weight="normal" fill="#000" stroke="#000" stroke-width="0.1">5</text>
<text x="499.3" y="625.2" font-size="7.7" text-anchor="start" font-weight="normal" fill="#000" stroke="#000" stroke-width="0.1">Receiver 2</text>
</svg>
</body></html>
